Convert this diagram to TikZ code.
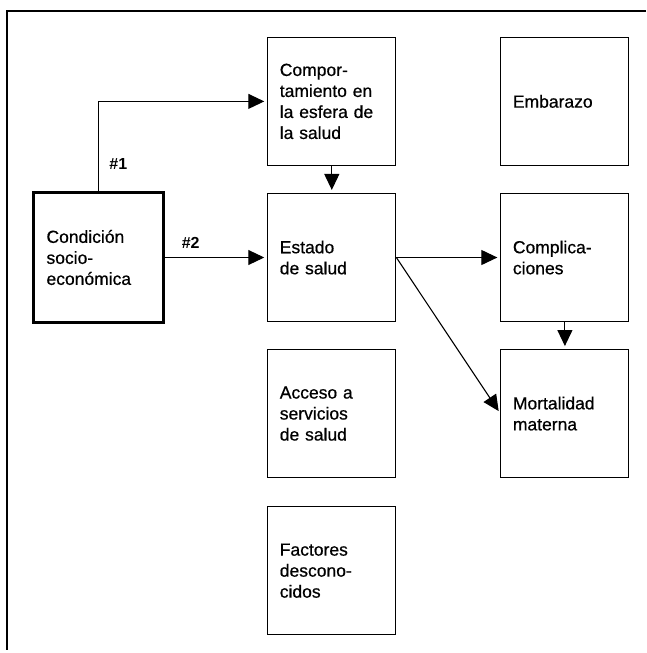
\documentclass[tikz,border=0pt]{standalone}
\usepackage{fontspec}
\setmainfont{Liberation Sans}
\newfontface\boxfont{Liberation Sans}[FakeBold=0.6]
\usetikzlibrary{arrows.meta,positioning}

\tikzset{
    box/.style={draw, line width=1.1pt, minimum width=128pt, minimum height=128pt,
                text width=104pt, inner xsep=12pt, align=left,
                font=\boxfont\fontsize{17.5}{21}\selectfont},
    thickbox/.style={box, line width=3.5pt, minimum width=130pt, minimum height=130pt},
    tag/.style={font=\fontsize{16}{19}\selectfont\bfseries}
}

\begin{document}
\begin{tikzpicture}[x=1pt, y=-1pt, >={Triangle[length=16pt,width=15pt]}, shorten >=3pt, line width=1.1pt]
    \useasboundingbox (0,0) rectangle (646,653);
    % Frame
    \draw [line width=1.4pt] (646,11) -- (7,11) -- (7,653);

    % Nodes {cond, comp, estado, emb, compl, acceso, mort, fact}
    \node [thickbox]    (cond)   at (98.5,257.5)           {Condición\\socio-\\económica};
    \node [box]         (estado) [right=102pt of cond]     {Estado\\de salud};
    \node [box]         (comp)   [above=27pt of estado]    {Compor-\\tamiento en\\la esfera de\\la salud};
    \node [box]         (emb)    [right=104pt of comp]     {Embarazo};
    \node [box]         (compl)  [right=104pt of estado]   {Complica-\\ciones};
    \node [box]         (acceso) [below=27pt of estado]    {Acceso a\\servicios\\de salud};
    \node [box]         (mort)   [below=27pt of compl]     {Mortalidad\\materna};
    \node [box]         (fact)   [below=28pt of acceso]    {Factores\\descono-\\cidos};

    % Paths
    \draw [->]  (cond.north) |- node [tag, right=7pt, pos=0.15] {\#1} (comp.west);
    \path [->]  (cond)    edge  node [tag, above=5pt, pos=0.25] {\#2}  (estado);
    \path [->]  (comp)    edge                          (estado);
    \path [->]  (estado)  edge                          (compl);
    \path [->]  (estado.east) edge                      (mort.west);
    \path [->]  (compl)   edge                          (mort);

\end{tikzpicture}
\end{document}
